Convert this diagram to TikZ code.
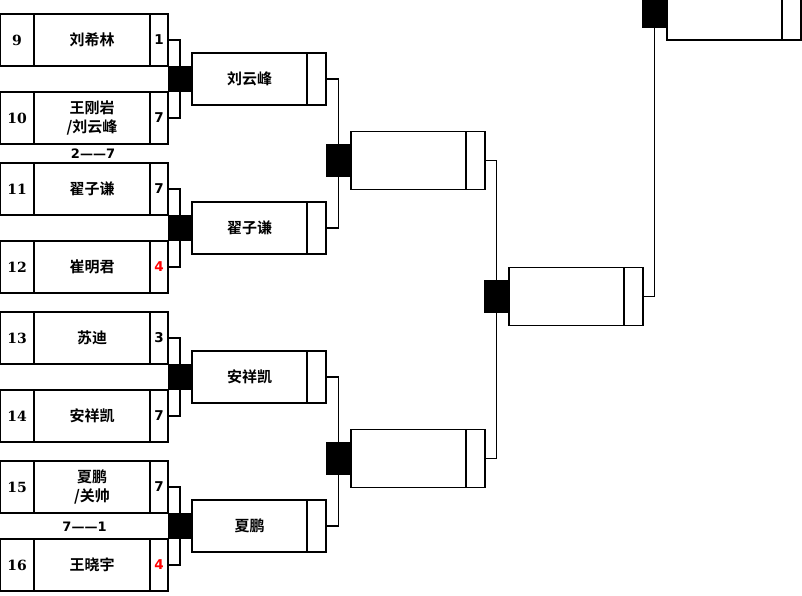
\documentclass[tikz,border=0pt]{standalone}
\usepackage{fontspec}
\setmainfont{DejaVu Sans}
\newfontfamily\cjkfont{Noto Sans CJK SC Bold}
\newfontfamily\seedfont{DejaVu Serif}
\usetikzlibrary{positioning}
\tikzset{
  box/.style={draw, line width=1.4pt, outer sep=0pt, inner sep=0pt},
  seedcell/.style={box, minimum width=34pt, minimum height=52pt,
    font=\seedfont\bfseries\fontsize{14}{14}\selectfont},
  namecell/.style={box, minimum width=116pt, minimum height=52pt, align=center,
    font=\cjkfont\fontsize{15}{19}\selectfont},
  scorecell/.style={box, minimum width=18pt, minimum height=52pt,
    font=\bfseries\fontsize{13.5}{14}\selectfont},
  winname/.style={box, minimum width=115pt, minimum height=#1,
    font=\cjkfont\fontsize{15}{19}\selectfont},
  winscore/.style={box, minimum width=19pt, minimum height=#1},
  joint/.style={fill=black, outer sep=0pt, inner sep=0pt, minimum width=24pt, minimum height=26pt},
  bigjoint/.style={joint, minimum width=25pt, minimum height=33pt},
  link/.style={line width=1.7pt},
  gaptext/.style={font=\bfseries\fontsize{13}{13}\selectfont}
}
\begin{document}
\begin{tikzpicture}[x=1pt, y=-1pt]
  \useasboundingbox (0,0) rectangle (802,595);
  \clip (0,0) rectangle (802,595);
  % first round
  \foreach \s/\y/\n/\p/\c in {9/14/{刘希林}/1/black, 10/92/{王刚岩\\/刘云峰}/7/black,
      11/163/{翟子谦}/7/black, 12/241/{崔明君}/4/red, 13/312/{苏迪}/3/black,
      14/390/{安祥凯}/7/black, 15/461/{夏鹏\\/关帅}/7/black, 16/539/{王晓宇}/4/red}{
    \node[seedcell, anchor=north west] (seed\s) at (0,\y) {\s};
    \node[namecell, right=0pt of seed\s] (name\s) {\n};
    \node[scorecell, right=0pt of name\s, text=\c] (score\s) {\p};
  }
  \node[gaptext] (gapa) at (93,154) {2——7};
  \node[gaptext] (gapb) at (84.5,527) {7——1};
  % second round
  \foreach \i/\y/\n in {a/79/{刘云峰}, b/228/{翟子谦}, c/377/{安祥凯}, d/526/{夏鹏}}{
    \node[joint] (ja\i) at (180,\y) {};
    \node[winname=52pt, right=0pt of ja\i] (r2\i) {\n};
    \node[winscore=52pt, right=0pt of r2\i] (r2\i s) {};
  }
  \draw[link] (score9.east) -| (jaa.north);
  \draw[link] (score10.east) -| (jaa.south);
  \draw[link] (score11.east) -| (jab.north);
  \draw[link] (score12.east) -| (jab.south);
  \draw[link] (score13.east) -| (jac.north);
  \draw[link] (score14.east) -| (jac.south);
  \draw[link] (score15.east) -| (jad.north);
  \draw[link] (score16.east) -| (jad.south);
  % third round
  \foreach \i/\y in {a/160.5, b/458.5}{
    \node[bigjoint] (jb\i) at (338.5,\y) {};
    \node[winname=58pt, right=0pt of jb\i] (r3\i) {};
    \node[winscore=58pt, right=0pt of r3\i] (r3\i s) {};
  }
  \draw[link] (r2as.east) -| (jba.north);
  \draw[link] (r2bs.east) -| (jba.south);
  \draw[link] (r2cs.east) -| (jbb.north);
  \draw[link] (r2ds.east) -| (jbb.south);
  % fourth round and final
  \node[bigjoint] (jc) at (496.5,296.5) {};
  \node[winname=58pt, right=0pt of jc] (r4) {};
  \node[winscore=58pt, right=0pt of r4] (r4s) {};
  \draw[link] (r3as.east) -| (jc.north);
  \draw[link] (r3bs.east) -| (jc.south);
  \node[bigjoint] (jd) at (654.5,11) {};
  \node[winname=58pt, right=0pt of jd] (r5) {};
  \node[winscore=58pt, right=0pt of r5] (r5s) {};
  \draw[link] (r4s.east) -| (jd.south);
\end{tikzpicture}
\end{document}
